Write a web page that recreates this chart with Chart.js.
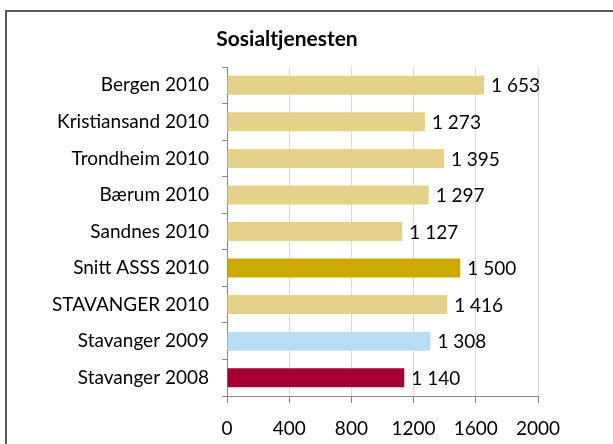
<!DOCTYPE html>
<html>
<head>
<meta charset="utf-8">
<script src="https://cdn.jsdelivr.net/npm/chart.js@4/dist/chart.umd.min.js"></script>
<style>
html,body{margin:0;padding:0;background:#fff;overflow:hidden;}
#wrap{position:relative;width:613px;height:444px;}
</style>
</head>
<body>
<div id="wrap"><canvas id="c" width="613" height="444"></canvas></div>
<script>
const chartTitle = "Sosialtjenesten";
const categories = ["Bergen 2010","Kristiansand 2010","Trondheim 2010","Bærum 2010","Sandnes 2010","Snitt ASSS 2010","STAVANGER 2010","Stavanger 2009","Stavanger 2008"];
const values = [1653,1273,1395,1297,1127,1500,1416,1308,1140];
const barColors = ["#E5D28A","#E5D28A","#E5D28A","#E5D28A","#E5D28A","#CCAA00","#E5D28A","#B8DDF2","#A50034"];
const xTicks = [0,400,800,1200,1600,2000];

const FONT = "Lato";
function fmt(v){ return String(v).replace(/\B(?=(\d{3})+(?!\d))/g, "\u00a0"); }

const framePlugin = {
  id:'frame',
  beforeDraw(chart){
    const ctx = chart.ctx;
    ctx.save();
    ctx.strokeStyle = "#595959";
    ctx.lineWidth = 2;
    ctx.strokeRect(6, 11, 700, 500);
    ctx.restore();
  },
  afterDraw(chart){
    const ctx = chart.ctx;
    ctx.save();
    ctx.font = "bold 21px " + FONT;
    ctx.fillStyle = "#000";
    ctx.textAlign = "center";
    ctx.textBaseline = "alphabetic";
    ctx.fillText(chartTitle, 287, 46);
    ctx.restore();
  }
};

const labelPlugin = {
  id:'vlabels',
  afterDatasetsDraw(chart){
    const ctx = chart.ctx;
    const meta = chart.getDatasetMeta(0);
    ctx.save();
    ctx.font = "19px " + FONT;
    ctx.fillStyle = "#000";
    ctx.textAlign = "left";
    ctx.textBaseline = "middle";
    meta.data.forEach((el, i) => {
      ctx.fillText(fmt(values[i]), el.x + 7, el.y + 1);
    });
    ctx.restore();
  }
};

new Chart(document.getElementById('c'), {
  type: 'bar',
  data: {
    labels: categories,
    datasets: [{
      data: values,
      backgroundColor: barColors,
      borderWidth: 0,
      categoryPercentage: 1,
      barPercentage: 0.52
    }]
  },
  options: {
    indexAxis: 'y',
    responsive: false,
    animation: false,
    layout: { padding: { left: 0, right: 75, top: 67, bottom: 0 } },
    plugins: { legend: { display: false }, tooltip: { enabled: false }, title: { display: false } },
    scales: {
      x: {
        min: 0, max: 2000,
        afterBuildTicks(scale){ scale.ticks = xTicks.map(v => ({value: v})); },
        afterFit(scale){ scale.height = 48; },
        ticks: { color: "#000", font: { family: FONT, size: 19 }, padding: 14, maxRotation: 0,
                 callback: (v) => String(v) },
        grid: { color: "#D9D9D9", tickColor: "#868686", tickLength: 7, lineWidth: 1 },
        border: { color: "#868686", width: 1 }
      },
      y: {
        afterFit(scale){ scale.width = 227; },
        ticks: { color: "#000", font: { family: FONT, size: 19 }, padding: 13 },
        grid: { display: true, drawOnChartArea: false, offset: true, tickColor: "#868686", tickLength: 5 },
        border: { color: "#868686", width: 1 }
      }
    }
  },
  plugins: [framePlugin, labelPlugin]
});
</script>
</body>
</html>
